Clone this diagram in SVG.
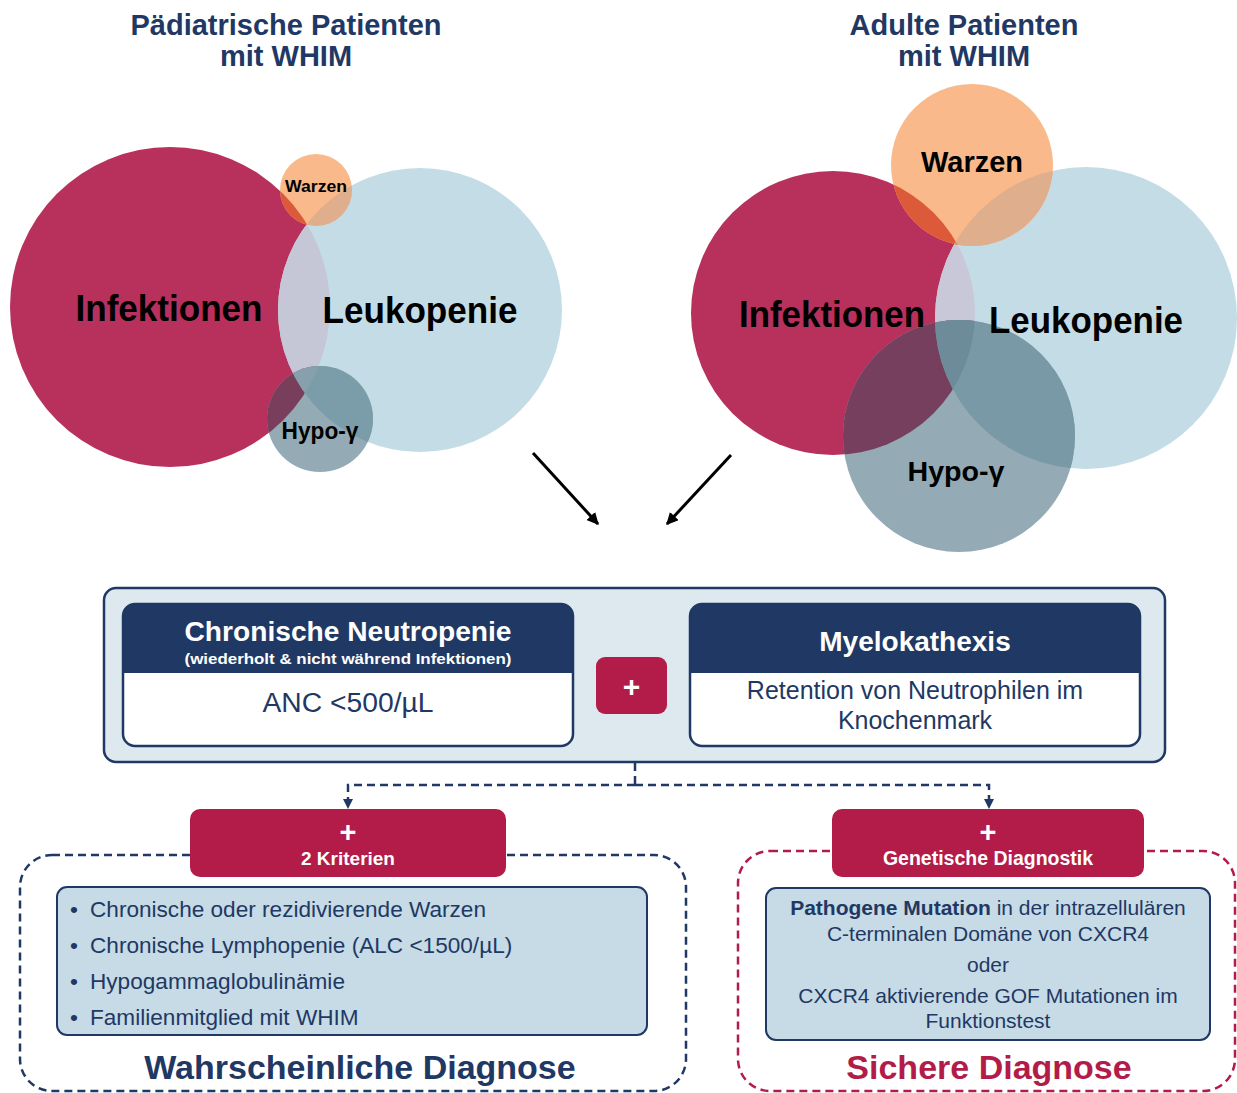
<svg xmlns="http://www.w3.org/2000/svg" width="1237" height="1093" viewBox="0 0 1237 1093">
<style>
text{font-family:"Liberation Sans",Arial,Helvetica,sans-serif}
.title{font-size:29px;font-weight:bold;fill:#1f3864;text-anchor:middle}
.vl{font-weight:bold;fill:#000;text-anchor:middle}
.red{fill:#b8305c}.blue{fill:#c4dce6}.org{fill:#f9b98a}.hyp{fill:#94aab4}
.hdr{fill:#1f3864}
.card{fill:none;stroke:#1f3864;stroke-width:2.5}
.wt{fill:#fff;font-weight:bold;text-anchor:middle}
.nv{fill:#1f3864;text-anchor:middle}
.bl{fill:#1f3864;font-size:22.6px}
.rt{fill:#1f3864;font-size:21px;text-anchor:middle}
.dash{fill:none;stroke:#1f3864;stroke-width:2.5;stroke-dasharray:8 5}
.redbox{fill:#b31c48}
.inner{fill:#c6dbe5;stroke:#1f3864;stroke-width:2}
</style>
<defs>
<clipPath id="cR1"><circle cx="170" cy="307" r="160"/></clipPath>
<clipPath id="cB1"><circle cx="420" cy="310" r="142"/></clipPath>
<clipPath id="cR2"><circle cx="833" cy="313" r="142"/></clipPath>
<clipPath id="cB2"><circle cx="1086" cy="318" r="151"/></clipPath>
<marker id="ah" viewBox="0 0 10 10" refX="9" refY="5" markerWidth="12" markerHeight="12" markerUnits="userSpaceOnUse" orient="auto"><path d="M0,0 L10,5 L0,10 Z" fill="#000"/></marker>
<marker id="ahn" viewBox="0 0 10 10" refX="9" refY="5" markerWidth="10" markerHeight="10" markerUnits="userSpaceOnUse" orient="auto"><path d="M0,0 L10,5 L0,10 Z" fill="#1f3864"/></marker>
</defs>
<rect width="1237" height="1093" fill="#fff"/>

<!-- Titles -->
<g id="title-left"><text class="title" x="286" y="35">Pädiatrische Patienten</text><text class="title" x="286" y="66">mit WHIM</text></g>
<g id="title-right"><text class="title" x="964" y="35">Adulte Patienten</text><text class="title" x="964" y="66">mit WHIM</text></g>

<!-- Left Venn -->
<g id="venn-left">
<g id="l-infektionen"><circle class="red" cx="170" cy="307" r="160"/></g>
<g id="l-leukopenie"><circle class="blue" cx="420" cy="310" r="142"/></g>
<g id="l-warzen"><circle class="org" cx="316" cy="190" r="36"/></g>
<g id="l-hypo"><circle class="hyp" cx="320" cy="419" r="53"/></g>
<g id="l-overlaps">
<circle cx="420" cy="310" r="142" fill="#c6c7d6" clip-path="url(#cR1)"/>
<circle cx="316" cy="190" r="36" fill="#dc5a3c" clip-path="url(#cR1)"/>
<circle cx="316" cy="190" r="36" fill="#dfae8d" clip-path="url(#cB1)"/>
<circle cx="320" cy="419" r="53" fill="#7a3e5d" clip-path="url(#cR1)"/>
<circle cx="320" cy="419" r="53" fill="#7b9da9" clip-path="url(#cB1)"/>
<g clip-path="url(#cR1)"><circle cx="320" cy="419" r="53" fill="#86a0ad" clip-path="url(#cB1)"/></g>
</g>
<text class="vl" x="169" y="321" font-size="36" textLength="187" lengthAdjust="spacingAndGlyphs">Infektionen</text>
<text class="vl" x="420" y="323" font-size="36" textLength="195" lengthAdjust="spacingAndGlyphs">Leukopenie</text>
<text class="vl" x="316" y="192" font-size="17" textLength="62" lengthAdjust="spacingAndGlyphs">Warzen</text>
<text class="vl" x="320" y="439" font-size="23" textLength="77" lengthAdjust="spacingAndGlyphs">Hypo-γ</text>
</g>

<!-- Right Venn -->
<g id="venn-right">
<g id="r-infektionen"><circle class="red" cx="833" cy="313" r="142"/></g>
<g id="r-leukopenie"><circle class="blue" cx="1086" cy="318" r="151"/></g>
<g id="r-warzen"><circle class="org" cx="972" cy="165" r="81"/></g>
<g id="r-hypo"><circle class="hyp" cx="959" cy="436" r="116"/></g>
<g id="r-overlaps">
<circle cx="1086" cy="318" r="151" fill="#c8c8d8" clip-path="url(#cR2)"/>
<circle cx="972" cy="165" r="81" fill="#dc5a3a" clip-path="url(#cR2)"/>
<circle cx="972" cy="165" r="81" fill="#dfae8d" clip-path="url(#cB2)"/>
<g clip-path="url(#cR2)"><circle cx="972" cy="165" r="81" fill="#d58e78" clip-path="url(#cB2)"/></g>
<circle cx="959" cy="436" r="116" fill="#763f5d" clip-path="url(#cR2)"/>
<circle cx="959" cy="436" r="116" fill="#7899a5" clip-path="url(#cB2)"/>
<g clip-path="url(#cR2)"><circle cx="959" cy="436" r="116" fill="#6e8b9a" clip-path="url(#cB2)"/></g>
</g>
<text class="vl" x="832" y="327" font-size="36" textLength="186" lengthAdjust="spacingAndGlyphs">Infektionen</text>
<text class="vl" x="1086" y="333" font-size="36" textLength="194" lengthAdjust="spacingAndGlyphs">Leukopenie</text>
<text class="vl" x="972" y="172" font-size="29" textLength="102" lengthAdjust="spacingAndGlyphs">Warzen</text>
<text class="vl" x="956" y="481" font-size="28" textLength="97" lengthAdjust="spacingAndGlyphs">Hypo-γ</text>
</g>

<!-- Main criteria box -->
<g id="main-box">
<rect x="104" y="588" width="1061" height="174" rx="12" fill="#dde8ef" stroke="#1f3864" stroke-width="2.5"/>
</g>
<g id="neutropenie">
<rect x="123" y="604" width="450" height="142" rx="12" fill="#fff"/>
<path class="hdr" d="M123,673 V616 Q123,604 135,604 H561 Q573,604 573,616 V673 Z"/>
<rect class="card" x="123" y="604" width="450" height="142" rx="12"/>
<text class="wt" x="348" y="641" font-size="27" textLength="327" lengthAdjust="spacingAndGlyphs">Chronische Neutropenie</text>
<text class="wt" x="348" y="664" font-size="15" textLength="327" lengthAdjust="spacingAndGlyphs">(wiederholt &amp; nicht während Infektionen)</text>
<text class="nv" x="348" y="712" font-size="27" textLength="171" lengthAdjust="spacingAndGlyphs">ANC &lt;500/µL</text>
</g>
<g id="plus-main">
<rect class="redbox" x="596" y="657" width="71" height="57" rx="9"/>
<text class="wt" x="631.5" y="697" font-size="30">+</text>
</g>
<g id="myelokathexis">
<rect x="690" y="604" width="450" height="142" rx="12" fill="#fff"/>
<path class="hdr" d="M690,673 V616 Q690,604 702,604 H1128 Q1140,604 1140,616 V673 Z"/>
<rect class="card" x="690" y="604" width="450" height="142" rx="12"/>
<text class="wt" x="915" y="651" font-size="28">Myelokathexis</text>
<text class="nv" x="915" y="699" font-size="25">Retention von Neutrophilen im</text>
<text class="nv" x="915" y="729" font-size="25">Knochenmark</text>
</g>

<!-- Connectors -->
<g id="connectors">
<line x1="533" y1="453" x2="598" y2="524" stroke="#000" stroke-width="3" marker-end="url(#ah)"/>
<line x1="731" y1="455" x2="667" y2="524" stroke="#000" stroke-width="3" marker-end="url(#ah)"/>
<path class="dash" d="M635,763 V785"/>
<path class="dash" d="M635,785 H348 V808" marker-end="url(#ahn)"/>
<path class="dash" d="M635,785 H989 V808" marker-end="url(#ahn)"/>
</g>

<!-- Probable diagnosis -->
<g id="wahrscheinlich">
<rect x="20" y="855" width="666" height="236" rx="32" fill="none" stroke="#1f3864" stroke-width="2.5" stroke-dasharray="8 5"/>
<rect class="inner" x="57" y="887" width="590" height="148" rx="10"/>
<text class="bl" x="70" y="917">•</text><text class="bl" x="90" y="917">Chronische oder rezidivierende Warzen</text>
<text class="bl" x="70" y="953">•</text><text class="bl" x="90" y="953">Chronische Lymphopenie (ALC &lt;1500/µL)</text>
<text class="bl" x="70" y="989">•</text><text class="bl" x="90" y="989">Hypogammaglobulinämie</text>
<text class="bl" x="70" y="1025">•</text><text class="bl" x="90" y="1025">Familienmitglied mit WHIM</text>
<text x="360" y="1079" font-size="34" font-weight="bold" fill="#1f3864" text-anchor="middle">Wahrscheinliche Diagnose</text>
</g>
<g id="kriterien">
<rect class="redbox" x="190" y="809" width="316" height="68" rx="10"/>
<text class="wt" x="348" y="842" font-size="29">+</text>
<text class="wt" x="348" y="865" font-size="19">2 Kriterien</text>
</g>

<!-- Definite diagnosis -->
<g id="sicher">
<rect x="738" y="851" width="497" height="240" rx="32" fill="none" stroke="#b31c48" stroke-width="2.5" stroke-dasharray="8 5"/>
<rect class="inner" x="766" y="888" width="444" height="152" rx="10"/>
<text class="rt" x="988" y="915"><tspan font-weight="bold">Pathogene Mutation</tspan> in der intrazellulären</text>
<text class="rt" x="988" y="941">C-terminalen Domäne von CXCR4</text>
<text class="rt" x="988" y="972">oder</text>
<text class="rt" x="988" y="1003">CXCR4 aktivierende GOF Mutationen im</text>
<text class="rt" x="988" y="1028">Funktionstest</text>
<text x="989" y="1079" font-size="34" font-weight="bold" fill="#b31c48" text-anchor="middle">Sichere Diagnose</text>
</g>
<g id="genetik">
<rect class="redbox" x="832" y="809" width="312" height="68" rx="10"/>
<text class="wt" x="988" y="842" font-size="29">+</text>
<text class="wt" x="988" y="865" font-size="19.5">Genetische Diagnostik</text>
</g>
</svg>
